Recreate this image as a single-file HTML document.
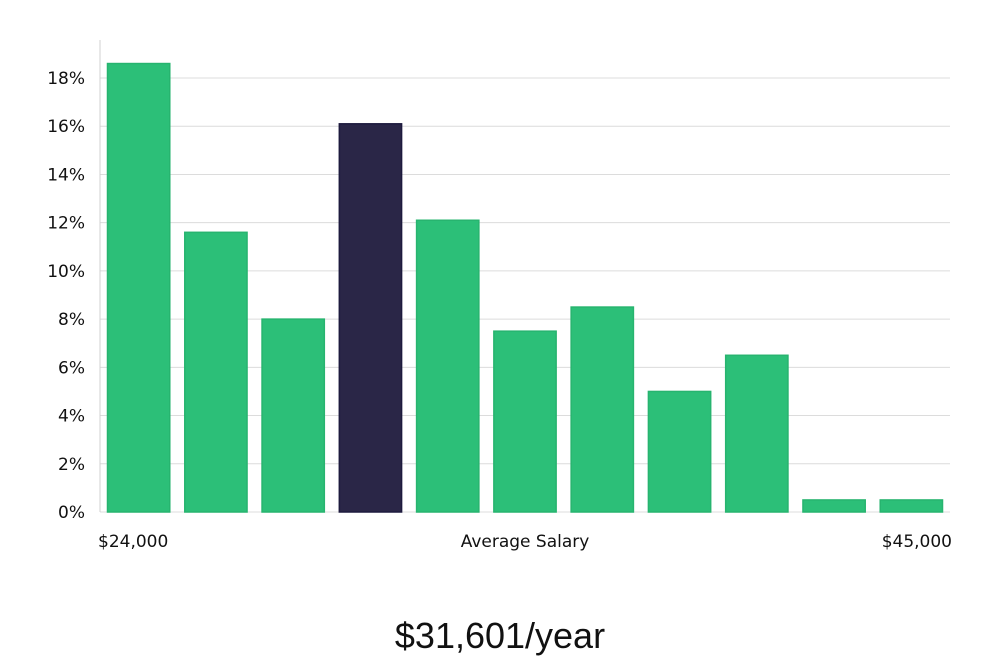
<!DOCTYPE html>
<html><head><meta charset="utf-8">
<style>
html,body{margin:0;padding:0;background:#fff;}
body{width:1000px;height:660px;overflow:hidden;font-family:"DejaVu Sans","Liberation Sans",sans-serif;}
</style></head>
<body>
<svg id="chart" width="1000" height="660" xmlns="http://www.w3.org/2000/svg"></svg>
<script>
const categories = ["b1","b2","b3","b4","b5","b6","b7","b8","b9","b10","b11"];
const values = [18.6, 11.6, 8.0, 16.1, 12.1, 7.5, 8.5, 5.0, 6.5, 0.5, 0.5];
const highlightIndex = 3;
const yTicks = [0,2,4,6,8,10,12,14,16,18];
const yTickLabels = ["0%","2%","4%","6%","8%","10%","12%","14%","16%","18%"];
const xLabels = ["$24,000","Average Salary","$45,000"];
const titleText = "$31,601/year";

const svg = document.getElementById('chart');
const NS = "http://www.w3.org/2000/svg";
const left = 100, right = 950, top0 = 40, bottom = 512;
const yPerUnit = (512 - 78) / 18;
function y(v){ return bottom - v * yPerUnit; }
const band = (right - left) / categories.length;
function x(i){ return left + i * band; }
function mk(tag, attrs){ const e = document.createElementNS(NS, tag); for (const k in attrs) e.setAttribute(k, attrs[k]); svg.appendChild(e); return e; }

yTicks.forEach((t, i) => {
  const g = mk('line', {x1: left, x2: right, y1: y(t), y2: y(t), stroke: '#dcdcdc', 'stroke-width': 1});
  
  
  const l = mk('text', {x: 85, y: y(t) + 6, 'text-anchor': 'end', 'font-size': 17, fill: '#111'});
  l.textContent = yTickLabels[i];
  
  
});
const ax = mk('line', {x1: left, x2: left, y1: top0, y2: bottom, stroke: '#d0d0d0', 'stroke-width': 1});



values.forEach((v, i) => {
  const hi = i === highlightIndex;
  const r = mk('rect', {x: x(i) + 7.5, y: y(v), width: band - 15, height: bottom - y(v),
    fill: hi ? '#2a2647' : '#2cbf78', stroke: hi ? '#1d1a3e' : '#27b46f', 'stroke-width': 1.5});
  
  
});

const xl = [[98, 'start'], [525, 'middle'], [952, 'end']];
xLabels.forEach((s, i) => {
  const t = mk('text', {x: xl[i][0], y: 547, 'text-anchor': xl[i][1], 'font-size': 17, fill: '#111'});
  t.textContent = s;
  
  
});

const title = mk('text', {x: 500, y: 648, 'text-anchor': 'middle', 'font-size': 36, fill: '#111', 'font-family': '"Liberation Sans",sans-serif'});
title.textContent = titleText;


</script>
</body></html>
